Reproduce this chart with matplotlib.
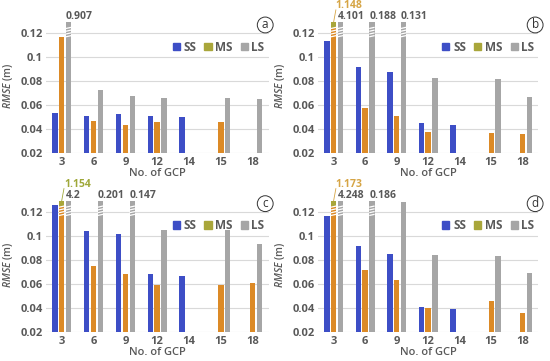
import numpy as np
import matplotlib.pyplot as plt
from matplotlib.patches import Patch

plt.rcParams['font.family'] = ['Open Sans', 'DejaVu Sans']
plt.rcParams['mathtext.fontset'] = 'custom'
plt.rcParams['mathtext.it'] = 'Open Sans:italic:semibold'

gcp = ['3', '6', '9', '12', '14', '15', '18']
nan = np.nan

# RMSE (m) per GCP count; values above the axis top are drawn as broken bars
ss_a = [0.054, 0.051, 0.053, 0.051, 0.050, nan, nan]
ms_a = [0.117, 0.047, 0.044, 0.046, nan, 0.046, nan]
ls_a = [0.907, 0.073, 0.068, 0.066, nan, 0.066, 0.065]

ss_b = [0.114, 0.092, 0.088, 0.045, 0.044, nan, nan]
ms_b = [1.148, 0.058, 0.051, 0.038, nan, 0.037, 0.036]
ls_b = [4.101, 0.188, 0.131, 0.083, nan, 0.082, 0.067]

ss_c = [0.126, 0.104, 0.102, 0.068, 0.067, nan, nan]
ms_c = [1.154, 0.075, 0.068, 0.059, nan, 0.059, 0.061]
ls_c = [4.2, 0.201, 0.147, 0.105, nan, 0.105, 0.093]

ss_d = [0.117, 0.092, 0.085, 0.041, 0.039, nan, nan]
ms_d = [1.173, 0.072, 0.063, 0.040, nan, 0.046, 0.036]
ls_d = [4.248, 0.186, 0.128, 0.084, nan, 0.083, 0.069]

c_ss = '#3d4ec6'
c_ms = '#dc8a26'
c_ms_leg = '#a9a63a'
c_ls = '#a6a6a6'
txt = '#595959'

cap = 0.1295
w = 0.17
off = 0.215


def panel(ax, ss, ms, ls, tag, ms_txt):
    x = np.arange(len(gcp))
    series = [(ss, -off, c_ss, c_ss), (ms, 0, c_ms, c_ms_leg), (ls, off, c_ls, c_ls)]
    for vals, dx, col, topcol in series:
        vals = np.array(vals, dtype=float)
        shown = np.minimum(vals, cap)
        ax.bar(x + dx, shown, w, color=col, zorder=2)
        for i, v in enumerate(vals):
            if not v > cap:
                continue
            xc = x[i] + dx
            # small top block + break marks
            ax.bar(xc, cap - 0.1248, w, bottom=0.1248, color=topcol, zorder=3)
            for yb in [0.1176, 0.1199, 0.1222, 0.1245]:
                ax.plot([xc - w / 2, xc + w / 2], [yb - 0.0005, yb + 0.0005],
                        color='white', lw=0.9, zorder=4, solid_capstyle='butt')
            if dx == 0:
                ax.text(xc + 0.07, 0.1428, '{:g}'.format(v), color=ms_txt,
                        fontsize=7.5, fontweight='bold', ha='left', va='center',
                        clip_on=False)
                ax.plot([xc, xc + 0.07], [cap, 0.1395], color=ms_txt, lw=0.6,
                        clip_on=False)
            else:
                ax.text(xc - w / 2, 0.1338, '{:g}'.format(v), color=txt,
                        fontsize=7.5, fontweight='bold', ha='left', va='center',
                        clip_on=False)

    ax.set_xlim(-0.5, len(gcp) - 0.5)
    ax.set_ylim(0.02, 0.132)
    ax.set_xticks(x)
    ax.set_xticklabels(gcp)
    ax.set_yticks([0.02, 0.04, 0.06, 0.08, 0.1, 0.12])
    ax.set_yticklabels(['0.02', '0.04', '0.06', '0.08', '0.1', '0.12'])
    ax.tick_params(length=0, labelsize=8, labelcolor=txt, pad=2)
    ax.tick_params(axis='x', pad=3)
    for lab in ax.get_xticklabels() + ax.get_yticklabels():
        lab.set_fontweight('bold')
    ax.grid(axis='y', color='#d9d9d9', lw=0.8, zorder=0)
    for s in ax.spines.values():
        s.set_visible(False)
    ax.set_xlabel('No. of GCP', fontsize=8, color=txt, labelpad=0,
                  fontweight='semibold')
    ax.set_ylabel(r'$RMSE$ (m)', fontsize=7.5, color=txt, labelpad=4,
                  fontweight='semibold')

    handles = [Patch(color=c_ss), Patch(color=c_ms_leg), Patch(color=c_ls)]
    ax.legend(handles, ['SS', 'MS', 'LS'], ncol=3, frameon=False,
              loc='center right', bbox_to_anchor=(1.03, 0.79),
              handlelength=0.6, handleheight=0.6, handletextpad=0.3,
              columnspacing=0.7, prop={'size': 8.5, 'weight': 'bold'},
              labelcolor=txt)
    ax.text(0.985, 0.955, tag, transform=ax.transAxes, ha='center', va='center',
            fontsize=8.5, color='#333333',
            bbox=dict(boxstyle='circle,pad=0.12', fc='white', ec='#333333', lw=0.7))


fig = plt.figure(figsize=(5.5, 3.61), dpi=100)
ax_a = fig.add_axes([0.0833, 0.5753, 0.405, 0.3723])
ax_b = fig.add_axes([0.578, 0.5753, 0.401, 0.3723])
ax_c = fig.add_axes([0.0833, 0.0803, 0.405, 0.3723])
ax_d = fig.add_axes([0.578, 0.0803, 0.401, 0.3723])

panel(ax_a, ss_a, ms_a, ls_a, 'a', '#c9a23c')
panel(ax_b, ss_b, ms_b, ls_b, 'b', '#d6a545')
panel(ax_c, ss_c, ms_c, ls_c, 'c', '#9fa83a')
panel(ax_d, ss_d, ms_d, ls_d, 'd', '#d6a545')

fig.savefig('out.png', dpi=100)
plt.close('all')
